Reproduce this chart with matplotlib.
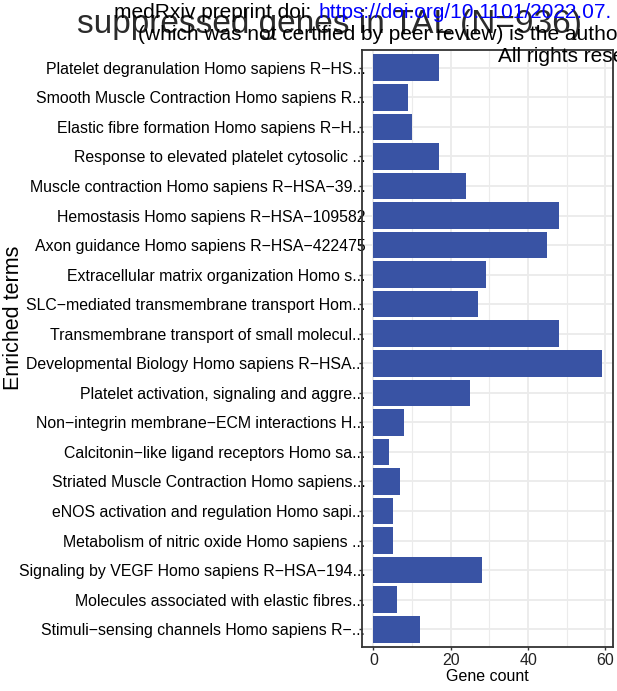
import matplotlib
matplotlib.use("Agg")
import matplotlib.pyplot as plt
import numpy as np

plt.rcParams['font.family'] = ['Liberation Sans', 'DejaVu Sans']

# Enriched pathway terms (top to bottom) and their gene counts
terms = [
    "Platelet degranulation Homo sapiens R\u2212HS...",
    "Smooth Muscle Contraction Homo sapiens R...",
    "Elastic fibre formation Homo sapiens R\u2212H...",
    "Response to elevated platelet cytosolic ...",
    "Muscle contraction Homo sapiens R\u2212HSA\u221239...",
    "Hemostasis Homo sapiens R\u2212HSA\u2212109582",
    "Axon guidance Homo sapiens R\u2212HSA\u2212422475",
    "Extracellular matrix organization Homo s...",
    "SLC\u2212mediated transmembrane transport Hom...",
    "Transmembrane transport of small molecul...",
    "Developmental Biology Homo sapiens R\u2212HSA...",
    "Platelet activation, signaling and aggre...",
    "Non\u2212integrin membrane\u2212ECM interactions H...",
    "Calcitonin\u2212like ligand receptors Homo sa...",
    "Striated Muscle Contraction Homo sapiens...",
    "eNOS activation and regulation Homo sapi...",
    "Metabolism of nitric oxide Homo sapiens ...",
    "Signaling by VEGF Homo sapiens R\u2212HSA\u2212194...",
    "Molecules associated with elastic fibres...",
    "Stimuli\u2212sensing channels Homo sapiens R\u2212...",
]
gene_count = [17, 9, 10, 17, 24, 48, 45, 29, 27, 48, 59, 25, 8, 4, 7, 5, 5, 28, 6, 12]

x_ticks = [0, 20, 40, 60]

fig = plt.figure(figsize=(6.17, 6.91), dpi=100)
ax = fig.add_axes([362 / 617, 1 - 647 / 691, 251 / 617, 597 / 691])

ypos = np.arange(len(terms))[::-1]
ax.barh(ypos, gene_count, height=0.9, color='#3953A4', zorder=3)

ax.set_xlim(-2.95, 61.95)
ax.set_ylim(-0.6, len(terms) - 0.4)

# grid: major/minor verticals, one horizontal per term
ax.set_xticks(x_ticks)
ax.set_xticks([10, 30, 50], minor=True)
ax.set_yticks(ypos)
ax.set_yticklabels(terms)
ax.grid(True, which='major', color='#EBEBEB', linewidth=1.3, zorder=0)
ax.grid(True, which='minor', axis='x', color='#EBEBEB', linewidth=0.8, zorder=0)
ax.set_axisbelow(True)

for s in ax.spines.values():
    s.set_color('#333333')
    s.set_linewidth(1.3)

ax.tick_params(axis='y', which='major', length=2.2, width=1, color='#333333',
               labelsize=11.4, labelcolor='black', pad=-4.5)
ax.tick_params(axis='x', which='major', length=2.2, width=1, color='#333333',
               labelsize=11.5, labelcolor='#222222', pad=2)
ax.tick_params(axis='x', which='minor', length=0)

ax.set_xlabel("Gene count", fontsize=11.5, labelpad=1)
fig.text(14 / 617, 1 - 318 / 691, "Enriched terms", rotation=90, fontsize=15.5,
         ha='center', va='center')

# title and preprint notice lines
fig.text(330 / 617, 1 - 24 / 691, "suppressed genes in TAL (N=936)", fontsize=24,
         color='#2b2b2b', ha='center', va='center')
fig.text(114 / 617, 1 - 12 / 691, "medRxiv preprint doi: ", fontsize=15,
         color='black', ha='left', va='center')
fig.text(319 / 617, 1 - 12 / 691, "https://doi.org/10.1101/2022.07.", fontsize=15,
         color='blue', ha='left', va='center')
fig.text(138 / 617, 1 - 34 / 691, "(which was not certified by peer review) is the author",
         fontsize=15, color='black', ha='left', va='center')
fig.text(498 / 617, 1 - 57 / 691, "All rights reserved.", fontsize=15,
         color='black', ha='left', va='center')

fig.savefig("out.png", dpi=100)
